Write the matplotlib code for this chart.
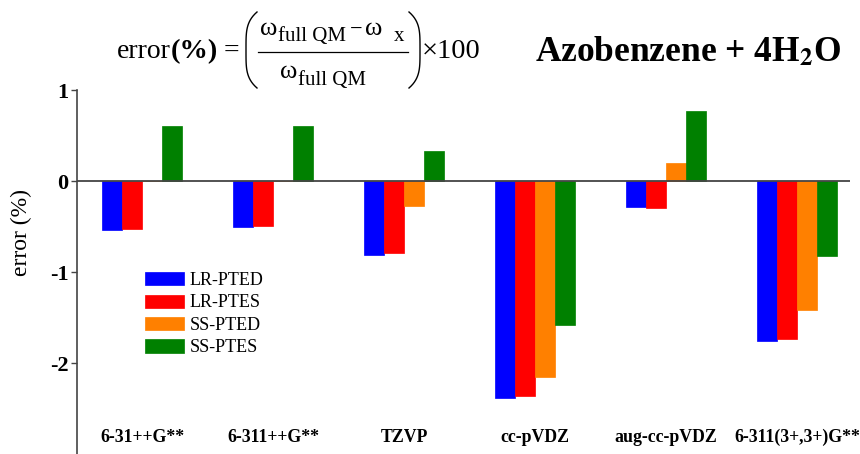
import numpy as np
import matplotlib
matplotlib.use('Agg')
from matplotlib import pyplot as plt
from matplotlib.lines import Line2D

plt.rcParams['font.family'] = ['Liberation Serif', 'DejaVu Serif']
plt.rcParams['mathtext.fontset'] = 'stix'

basis_sets = ['6-31++G**', '6-311++G**', 'TZVP', 'cc-pVDZ', 'aug-cc-pVDZ', '6-311(3+,3+)G**']
methods = ['LR-PTED', 'LR-PTES', 'SS-PTED', 'SS-PTES']
colors = ['#0000ff', '#ff0000', '#ff8000', '#008000']

lr_pted = [-0.54, -0.51, -0.81, -2.38, -0.29, -1.76]
lr_ptes = [-0.53, -0.49, -0.79, -2.36, -0.30, -1.74]
ss_pted = [0.0, 0.0, -0.27, -2.15, 0.20, -1.42]
ss_ptes = [0.61, 0.60, 0.33, -1.58, 0.77, -0.82]
series = [lr_pted, lr_ptes, ss_pted, ss_ptes]

W, H = 860, 454
fig = plt.figure(figsize=(W / 100, H / 100), dpi=100)
ax = fig.add_axes([77 / W, 0.0, (850 - 77) / W, (454.6 - 90.7) / H])

x = np.arange(len(basis_sets))
width = 0.153
offsets = [-1.5, -0.5, 0.5, 1.5]
for vals, col, lab, off in zip(series, colors, methods, offsets):
    ax.bar(x + off * width, vals, width, color=col, label=lab,
           edgecolor=col, linewidth=0.5)

ax.axhline(0, color='#444444', linewidth=1.3, zorder=3)

ax.set_xlim(-0.496, 5.405)
ax.set_ylim(-3.0, 1.0)
ax.set_yticks([1, 0, -1, -2])
ax.set_yticklabels(['1', '0', '-1', '-2'], fontsize=16, fontweight='bold')
ax.tick_params(axis='y', direction='out', length=4, width=1, color='#444444', pad=2)
ax.set_xticks([])
for s in ['top', 'right', 'bottom']:
    ax.spines[s].set_visible(False)
ax.spines['left'].set_color('#444444')
ax.spines['left'].set_linewidth(1.2)

for xi, name in zip(x, basis_sets):
    ax.text(xi, -2.82, name, ha='center', va='center', fontsize=12.8, fontweight='bold')

ax.legend(loc='upper left', bbox_to_anchor=(0.078, 0.52), frameon=False, fontsize=13,
          handlelength=2.2, handleheight=0.75, handletextpad=0.3, labelspacing=0.3,
          borderaxespad=0)


def px_text(px, py, s, **kw):
    # place text by pixel position (y measured from the top)
    fig.text(px / W, 1 - py / H, s, va='baseline', **kw)


def px_line(xs, ys, **kw):
    xs = np.asarray(xs, dtype=float)
    ys = np.asarray(ys, dtype=float)
    fig.add_artist(Line2D(xs / W, 1 - ys / H, transform=fig.transFigure,
                          color='black', **kw))


fig.text(21 / W, 1 - 232 / H, 'error (%)', rotation=90, ha='center', va='center', fontsize=17)

fig.text(688 / W, 1 - 52 / H, r'Azobenzene + 4H$_\mathbf{2}$O', ha='center', va='center',
         fontsize=25.5, fontweight='bold')

# error formula: error(%) = ((w_full QM - w_x) / w_full QM) x 100
px_text(117, 58, 'error', fontsize=20)
px_text(171, 58, '(%)', fontsize=20.5, fontweight='bold')
px_text(224, 58, '=', fontsize=20)
px_text(260, 35, 'ω', fontsize=19)
px_text(278, 41, 'full QM', fontsize=15)
px_text(350, 35, '−', fontsize=16)
px_text(365, 35, 'ω', fontsize=19)
px_text(394, 41, 'x', fontsize=15)
px_text(280, 78, 'ω', fontsize=19)
px_text(298, 85, 'full QM', fontsize=15)
px_text(422, 58, '×100', fontsize=20.5)
px_line([258, 408], [52, 52], linewidth=0.9)
t = np.linspace(-1, 1, 40)
px_line(257 - 11 * (1 - t ** 4), 50 + 38 * t, linewidth=1.0)
px_line(409 + 11 * (1 - t ** 4), 50 + 38 * t, linewidth=1.0)

plt.savefig('out.png', dpi=100)
